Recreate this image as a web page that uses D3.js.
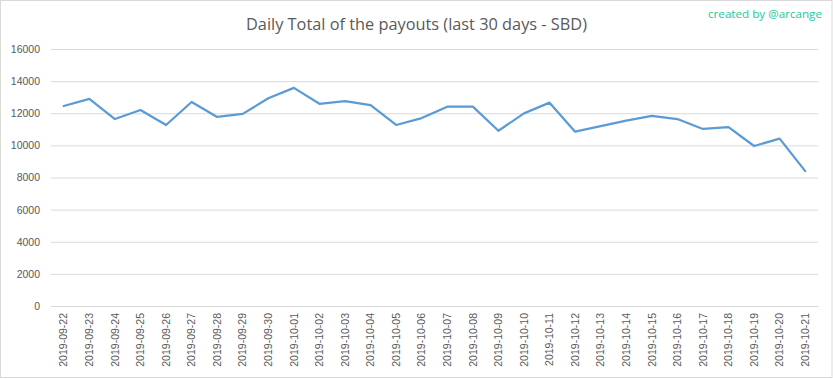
<!DOCTYPE html>
<html>
<head>
<meta charset="utf-8">
<script src="https://cdn.jsdelivr.net/npm/d3@7"></script>
<style>
  html, body { margin: 0; padding: 0; background: #fff; }
  svg { display: block; }
</style>
</head>
<body>
<script>
const categories = [
  "2019-09-22","2019-09-23","2019-09-24","2019-09-25","2019-09-26","2019-09-27",
  "2019-09-28","2019-09-29","2019-09-30","2019-10-01","2019-10-02","2019-10-03",
  "2019-10-04","2019-10-05","2019-10-06","2019-10-07","2019-10-08","2019-10-09",
  "2019-10-10","2019-10-11","2019-10-12","2019-10-13","2019-10-14","2019-10-15",
  "2019-10-16","2019-10-17","2019-10-18","2019-10-19","2019-10-20","2019-10-21"
];
const payouts = [
  12450, 12890, 11640, 12200, 11270, 12700,
  11770, 11960, 12930, 13580, 12590, 12760,
  12510, 11270, 11700, 12410, 12410, 10910,
  11990, 12660, 10850, 11200, 11540, 11830,
  11640, 11020, 11140, 9960, 10420, 8400
];
const yTicks = [0, 2000, 4000, 6000, 8000, 10000, 12000, 14000, 16000];
const titleText = "Daily Total of the payouts (last 30 days - SBD)";
const creditText = "created by @arcange";

const W = 833, H = 379;
const svg = d3.select("body").append("svg").attr("width", W).attr("height", H);

svg.append("rect").attr("x", 0.5).attr("y", 0.5).attr("width", W - 1.5).attr("height", H - 2)
  .attr("fill", "#fff").attr("stroke", "#d9d9d9");

const x = d3.scaleBand().domain(categories).range([51, 818]).padding(0);
const y = d3.scaleLinear().domain([0, 16000]).range([306, 49]);

// gridlines
const yAxis = d3.axisLeft(y).tickValues(yTicks).tickSize(-(818 - 51)).tickPadding(11).tickFormat(d3.format("d"));
const gy = svg.append("g").attr("transform", "translate(51,0)").call(yAxis);
gy.select(".domain").remove();
gy.selectAll(".tick line").attr("stroke", "#d9d9d9").attr("stroke-width", 1);
gy.selectAll(".tick text").attr("fill", "#595959")
  .style("font-family", "'Liberation Sans', Arial, sans-serif").style("font-size", "10.5px");

// x axis
const xAxis = d3.axisBottom(x).tickSize(0).tickPadding(0);
const gx = svg.append("g").attr("transform", "translate(0,306)").call(xAxis);
gx.select(".domain").attr("stroke", "#d9d9d9");
gx.selectAll(".tick text")
  .attr("fill", "#595959")
  .style("font-family", "'Liberation Sans', Arial, sans-serif").style("font-size", "10.5px")
  .attr("transform", "rotate(-90)")
  .attr("text-anchor", "end")
  .attr("x", -7)
  .attr("y", 0)
  .attr("dy", "0.35em");

// line
const line = d3.line()
  .x((d, i) => x(categories[i]) + x.bandwidth() / 2)
  .y(d => y(d));
svg.append("path").datum(payouts)
  .attr("fill", "none")
  .attr("stroke", "#5b9bd5")
  .attr("stroke-width", 2.25)
  .attr("stroke-linejoin", "round")
  .attr("stroke-linecap", "round")
  .attr("d", line);

// title
svg.append("text")
  .attr("x", 416.5).attr("y", 30)
  .attr("text-anchor", "middle")
  .attr("fill", "#595959")
  .style("font-family", "'Open Sans', 'Noto Sans', sans-serif")
  .style("font-size", "17px")
  .attr("textLength", 341)
  .attr("lengthAdjust", "spacingAndGlyphs")
  .text(titleText);

// credit
svg.append("text")
  .attr("x", 822).attr("y", 18)
  .attr("text-anchor", "end")
  .attr("fill", "#22c89b")
  .style("font-family", "'Open Sans', 'Noto Sans', sans-serif")
  .style("font-size", "11.5px")
  .attr("textLength", 114)
  .attr("lengthAdjust", "spacingAndGlyphs")
  .text(creditText);
</script>
</body>
</html>
